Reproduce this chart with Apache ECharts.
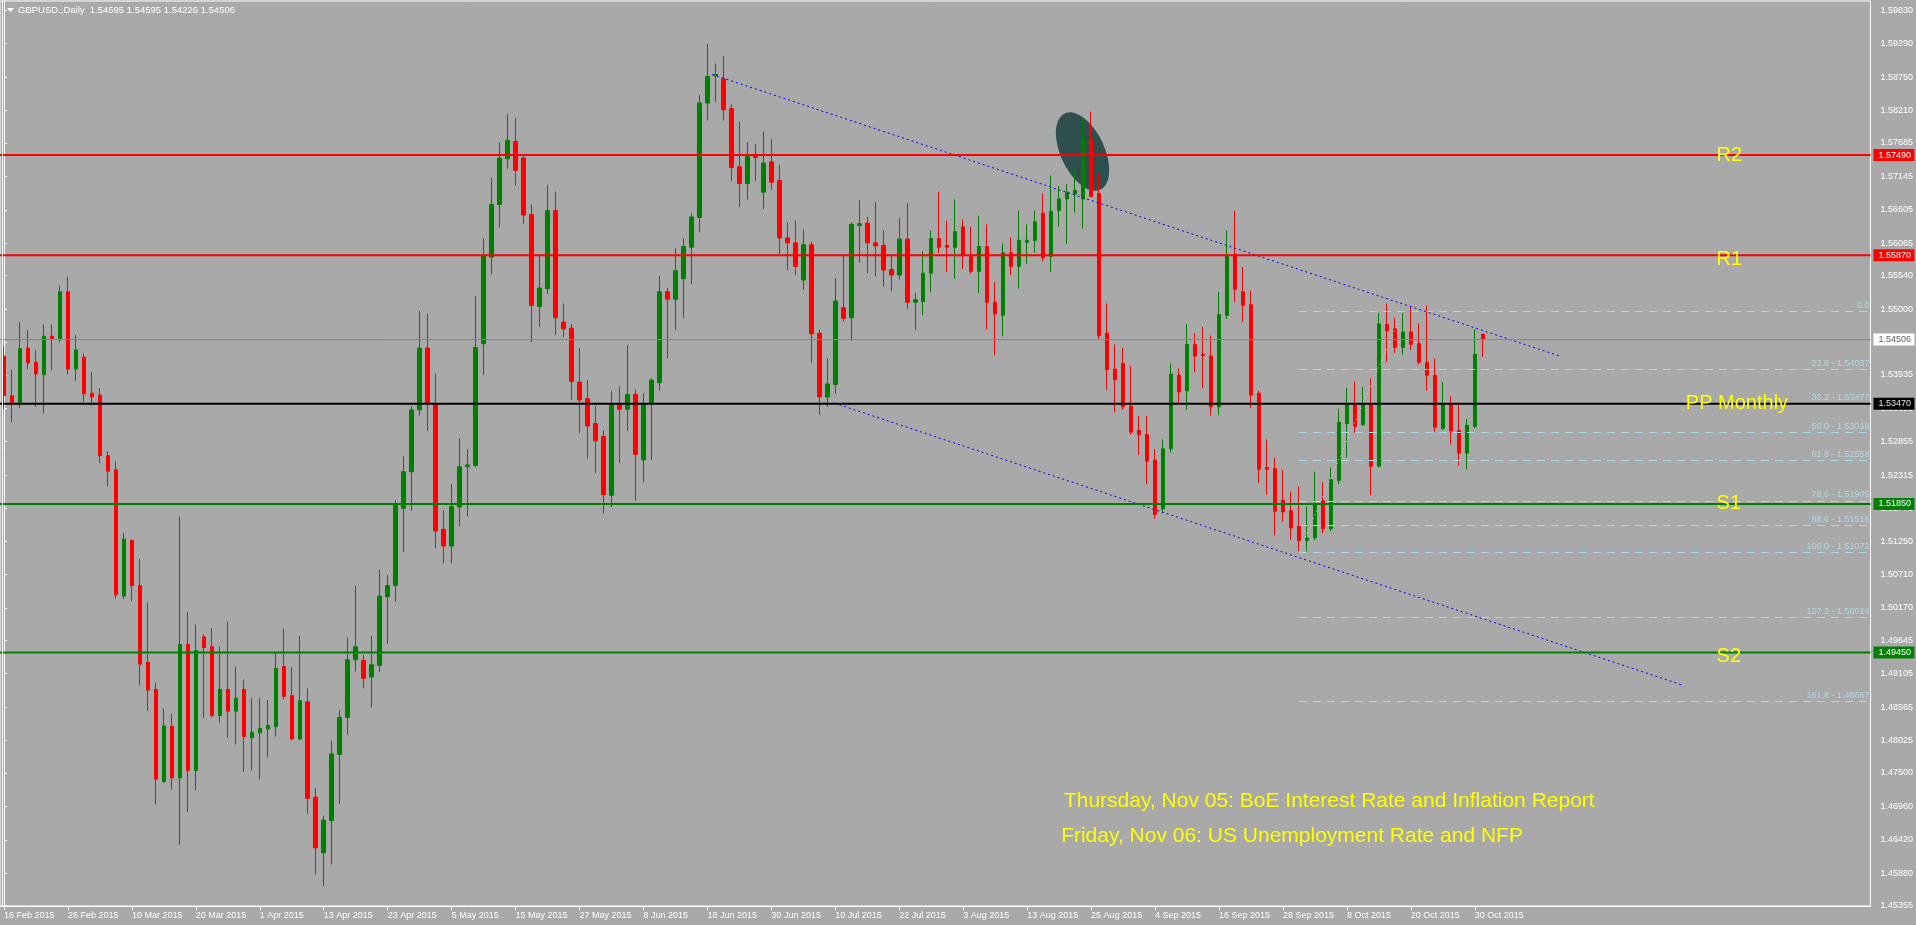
<!DOCTYPE html>
<html>
<head>
<meta charset="utf-8">
<title>GBPUSD Daily</title>
<script src="https://cdn.jsdelivr.net/npm/echarts@6.0.0/dist/echarts.min.js"></script>
<style>
html,body{margin:0;padding:0;background:#a9a9a9;overflow:hidden;}
#chart{width:1916px;height:925px;}
</style>
</head>
<body>
<div id="chart"></div>
<script>
// ---------------- DATA ----------------
const symbolName = 'GBPUSD.,Daily';
const tickLabels = ['16 Feb 2015','26 Feb 2015','10 Mar 2015','20 Mar 2015','1 Apr 2015','13 Apr 2015','23 Apr 2015','5 May 2015','15 May 2015','27 May 2015','8 Jun 2015','18 Jun 2015','30 Jun 2015','10 Jul 2015','22 Jul 2015','3 Aug 2015','13 Aug 2015','25 Aug 2015','4 Sep 2015','16 Sep 2015','28 Sep 2015','8 Oct 2015','20 Oct 2015','30 Oct 2015'];
const barsPerTickLabel = 8;
const slotCount = 234;

const opens = [
1.5424,1.5360,1.5349,1.5437,1.5414,1.5394,1.5456,1.5452,1.5528,1.5403,
1.5422,1.5364,1.5361,1.5263,1.5240,1.5036,1.5126,1.5053,1.4929,1.4885,
1.4736,1.4825,1.4742,1.4958,1.4754,1.4970,1.4954,1.4843,1.4885,1.4850,
1.4885,1.4807,1.4815,1.4821,1.4825,1.4922,1.4875,1.4805,1.4865,1.4711,
1.4621,1.4673,1.4780,1.4840,1.4933,1.4932,1.4905,1.4924,1.5035,1.5053,
1.5178,1.5237,1.5337,1.5437,1.5346,1.5144,1.5117,1.5180,1.5245,1.5247,
1.5444,1.5584,1.5669,1.5743,1.5771,1.5744,1.5653,1.5504,1.5533,1.5659,
1.5479,1.5469,1.5382,1.5355,1.5315,1.5294,1.5199,1.5345,1.5338,1.5362,
1.5256,1.5348,1.5381,1.5528,1.5516,1.5549,1.5600,1.5648,1.5833,1.5877,
1.5872,1.5824,1.5730,1.5703,1.5749,1.5689,1.5738,1.5708,1.5615,1.5607,
1.5547,1.5604,1.5461,1.5358,1.5378,1.5502,1.5486,1.5635,1.5639,1.5607,
1.5603,1.5564,1.5555,1.5613,1.5511,1.5512,1.5558,1.5614,1.5603,1.5600,
1.5633,1.5585,1.5561,1.5601,1.5511,1.5490,1.5591,1.5569,1.5608,1.5611,
1.5655,1.5585,1.5659,1.5678,1.5686,1.5678,1.5774,1.5687,1.5461,1.5403,
1.5412,1.5343,1.5304,1.5297,1.5256,1.5177,1.5274,1.5393,1.5368,1.5443,
1.5427,1.5424,1.5342,1.5490,1.5589,1.5528,1.5507,1.5364,1.5244,1.5242,
1.5191,1.5174,1.5149,1.5126,1.5130,1.5190,1.5145,1.5223,1.5315,1.5347,
1.5313,1.5347,1.5246,1.5475,1.5468,1.5438,1.5463,1.5444,1.5414,1.5393,
1.5307,1.5347,1.5304,1.5267,1.5310,1.54595];
const highs = [
1.5440,1.5402,1.5479,1.5466,1.5434,1.5475,1.5475,1.5538,1.5552,1.5458,
1.5428,1.5398,1.5372,1.5270,1.5254,1.5138,1.5128,1.5096,1.5026,1.4896,
1.4854,1.4846,1.5164,1.5010,1.4990,1.4974,1.4984,1.4954,1.4995,1.4922,
1.4901,1.4871,1.4871,1.4868,1.4944,1.4983,1.4921,1.4972,1.4887,1.4725,
1.4681,1.4802,1.4852,1.4969,1.5053,1.4941,1.4972,1.5079,1.5070,1.5191,
1.5262,1.5343,1.5497,1.5493,1.5396,1.5174,1.5217,1.5291,1.5274,1.5521,
1.5614,1.5712,1.5769,1.5815,1.5809,1.5747,1.5669,1.5587,1.5701,1.5690,
1.5509,1.5476,1.5437,1.5385,1.5343,1.5304,1.5367,1.5375,1.5442,1.5370,
1.5364,1.5388,1.5554,1.5534,1.5598,1.5614,1.5655,1.5846,1.5929,1.5897,
1.5909,1.5831,1.5803,1.5770,1.5767,1.5787,1.5775,1.5733,1.5640,1.5643,
1.5629,1.5609,1.5467,1.5420,1.5550,1.5587,1.5640,1.5676,1.5649,1.5673,
1.5627,1.5586,1.5647,1.5671,1.5526,1.5594,1.5627,1.5690,1.5643,1.5677,
1.5645,1.5633,1.5651,1.5637,1.5544,1.5606,1.5616,1.5659,1.5637,1.5659,
1.5687,1.5716,1.5699,1.5702,1.5725,1.5810,1.5819,1.5720,1.5509,1.5443,
1.5437,1.5408,1.5327,1.5327,1.5274,1.5289,1.5412,1.5404,1.5476,1.5461,
1.5471,1.5457,1.5528,1.5627,1.5659,1.5568,1.5530,1.5368,1.5289,1.5260,
1.5240,1.5205,1.5213,1.5181,1.5237,1.5220,1.5244,1.5339,1.5373,1.5383,
1.5374,1.5388,1.5494,1.5509,1.5486,1.5497,1.5505,1.5477,1.5506,1.5420,
1.5382,1.5359,1.5347,1.5322,1.5467,1.54595];
const lows = [
1.5338,1.5317,1.5340,1.5403,1.5342,1.5331,1.5401,1.5446,1.5394,1.5384,
1.5350,1.5344,1.5251,1.5213,1.5032,1.5031,1.5028,1.4892,1.4850,1.4699,
1.4734,1.4723,1.4634,1.4687,1.4722,1.4839,1.4840,1.4831,1.4807,1.4796,
1.4752,1.4754,1.4740,1.4775,1.4809,1.4869,1.4803,1.4803,1.4684,1.4586,
1.4567,1.4602,1.4700,1.4811,1.4914,1.4887,1.4856,1.4913,1.4959,1.5027,
1.5107,1.5174,1.5328,1.5303,1.5113,1.5089,1.5089,1.5149,1.5165,1.5244,
1.5393,1.5556,1.5632,1.5727,1.5700,1.5638,1.5446,1.5471,1.5524,1.5458,
1.5455,1.5353,1.5300,1.5258,1.5235,1.5170,1.5180,1.5251,1.5303,1.5190,
1.5220,1.5256,1.5368,1.5420,1.5466,1.5486,1.5540,1.5624,1.5805,1.5835,
1.5805,1.5707,1.5665,1.5677,1.5707,1.5662,1.5693,1.5589,1.5563,1.5555,
1.5531,1.5413,1.5329,1.5342,1.5363,1.5480,1.5449,1.5575,1.5558,1.5553,
1.5536,1.5529,1.5548,1.5500,1.5466,1.5490,1.5527,1.5591,1.5560,1.5549,
1.5565,1.5557,1.5526,1.5467,1.5425,1.5456,1.5555,1.5533,1.5573,1.5591,
1.5577,1.5560,1.5633,1.5605,1.5656,1.5630,1.5681,1.5452,1.5369,1.5333,
1.5337,1.5297,1.5264,1.5217,1.5161,1.5170,1.5268,1.5348,1.5337,1.5398,
1.5372,1.5328,1.5328,1.5484,1.5511,1.5479,1.5340,1.5219,1.5200,1.5134,
1.5156,1.5127,1.5107,1.5108,1.5126,1.5138,1.5141,1.5217,1.5260,1.5300,
1.5311,1.5199,1.5244,1.5414,1.5429,1.5426,1.5434,1.5410,1.5368,1.5302,
1.5304,1.5281,1.5247,1.5241,1.5307,1.54226];
const closes = [
1.5360,1.5349,1.5436,1.5413,1.5395,1.5456,1.5452,1.5528,1.5403,1.5434,
1.5363,1.5358,1.5263,1.5238,1.5038,1.5128,1.5053,1.4926,1.4884,1.4740,
1.4826,1.4742,1.4958,1.4754,1.4948,1.4953,1.4843,1.4885,1.4850,1.4871,
1.4809,1.4816,1.4822,1.4827,1.4919,1.4874,1.4805,1.4867,1.4709,1.4629,
1.4674,1.4781,1.4840,1.4933,1.4954,1.4903,1.4925,1.5036,1.5053,1.5185,
1.5237,1.5337,1.5437,1.5348,1.5141,1.5117,1.5181,1.5245,1.5248,1.5438,
1.5587,1.5669,1.5744,1.5773,1.5724,1.5652,1.5506,1.5534,1.5659,1.5486,
1.5468,1.5383,1.5353,1.5311,1.5287,1.5200,1.5345,1.5338,1.5362,1.5265,
1.5347,1.5385,1.5528,1.5516,1.5562,1.5601,1.5649,1.5833,1.5876,1.5879,
1.5822,1.5729,1.5703,1.5749,1.5745,1.5736,1.5705,1.5615,1.5607,1.5569,
1.5604,1.5460,1.5358,1.5379,1.5513,1.5485,1.5637,1.5638,1.5607,1.5602,
1.5563,1.5555,1.5613,1.5511,1.5515,1.5558,1.5614,1.5600,1.5600,1.5625,
1.5586,1.5561,1.5601,1.5511,1.5492,1.5591,1.5569,1.5611,1.5611,1.5641,
1.5583,1.5658,1.5678,1.5689,1.5692,1.5776,1.5682,1.5457,1.5402,1.5386,
1.5342,1.5301,1.5297,1.5254,1.5168,1.5274,1.5395,1.5366,1.5443,1.5424,
1.5425,1.5342,1.5491,1.5587,1.5532,1.5506,1.5361,1.5241,1.5241,1.5173,
1.5172,1.5146,1.5126,1.5130,1.5185,1.5145,1.5224,1.5317,1.5345,1.5310,
1.5347,1.5246,1.5476,1.5465,1.5438,1.5463,1.5443,1.5414,1.5393,1.5309,
1.5347,1.5303,1.5267,1.5312,1.5427,1.54506];

const yTickValues = [1.59830,1.59290,1.58750,1.58210,1.57685,1.57145,1.56605,1.56065,1.55540,1.55000,1.54460,1.53935,1.53395,1.52855,1.52315,1.51775,1.51250,1.50710,1.50170,1.49645,1.49105,1.48565,1.48025,1.47500,1.46960,1.46420,1.45880,1.45355];
const yMin = 1.45350, yMax = 1.59980;

const levelNames  = ['R2', 'R1', 'PP Monthly', 'S1', 'S2'];
const levelPrices = [1.57490, 1.55870, 1.53470, 1.51850, 1.49450];
const currentPrice = closes[closes.length - 1];

const fibLevels = [0.0, 23.8, 38.2, 50.0, 61.8, 78.6, 88.6, 100.0, 127.2, 161.8];
const fibPrices = [1.54964, 1.54037, 1.53477, 1.53018, 1.52558, 1.51905, 1.51516, 1.51072, 1.50014, 1.48667];
const fibAnchorLow  = [162, 1.51072];
const fibAnchorHigh = [175, 1.54964];

const channelUpper = [[88.6, 1.58791], [194.9, 1.54228]];
const channelLower = [[103.9, 1.53479], [209.9, 1.48925]];

const ellipseAxisEnds = [132.7, 1.58162, 137.15, 1.56931];

const levelLabelAnchors = [[214.25, 1.57490], [214.25, 1.55806], [210.4, 1.53470], [214.25, 1.51850], [214.25, 1.49377]];
const eventNotes = ['Thursday, Nov 05: BoE Interest Rate and Inflation Report', 'Friday, Nov 06: US Unemployment Rate and NFP'];
const eventAnchors = [[132.6, 1.47047], [132.25, 1.46473]];

// ---------------- STYLES ----------------
const FONT = "'Liberation Sans', Arial, sans-serif";
const BG = '#a9a9a9';
const levelStyles = [
  { line: '#ff0000', width: 2, box: '#ff0000', text: '#ffffff' },
  { line: '#ff0000', width: 2, box: '#ff0000', text: '#ffffff' },
  { line: '#000000', width: 2, box: '#000000', text: '#e8e8e8' },
  { line: '#008000', width: 2, box: '#008000', text: '#ffffff' },
  { line: '#008000', width: 2, box: '#008000', text: '#ffffff' },
  { line: '#778899', width: 1, box: '#ffffff', text: '#606060' }
];

// ---------------- BUILD ----------------
const categories = Array.from({ length: slotCount }, (_, i) => String(i));
const candleData = opens.map((o, i) => [o, closes[i], lows[i], highs[i]]);
const isTick = (i) => i % barsPerTickLabel === 0 && i < opens.length;

const levelRows = [[0, currentPrice, 5]].concat(levelPrices.map((p, i) => [0, p, i]));
const fibRows = fibPrices.map((p, i) => [fibAnchorLow[0], p, fibLevels[i]]);
const labelRows = levelLabelAnchors.map((a, i) => [a[0], a[1], i]);
const eventRows = eventAnchors.map((a, i) => [a[0], a[1], i]);

const last = opens.length - 1;
const headerText = symbolName + '  ' + opens[last].toFixed(5) + ' ' + highs[last].toFixed(5) + ' ' + lows[last].toFixed(5) + ' ' + closes[last].toFixed(5);

const chart = echarts.init(document.getElementById('chart'), null, { renderer: 'canvas' });

const option = {
  backgroundColor: BG,
  animation: false,
  textStyle: { fontFamily: FONT },
  grid: { left: 0, right: 44, top: 1, bottom: 19, show: true, borderColor: '#ffffff', borderWidth: 1, backgroundColor: 'transparent' },
  xAxis: [
    {
      type: 'category', data: categories, boundaryGap: true,
      axisLine: { show: true, lineStyle: { color: '#ffffff', width: 1 } },
      axisTick: { show: true, interval: isTick, alignWithLabel: true, length: 4, lineStyle: { color: '#ffffff' } },
      axisLabel: {
        show: true, interval: isTick, color: '#ffffff', fontSize: 9, fontFamily: FONT, align: 'left', margin: 5,
        formatter: (v, idx) => tickLabels[idx / barsPerTickLabel] || ''
      },
      splitLine: { show: false }
    },
    { type: 'value', min: -0.5, max: slotCount - 0.5, show: false, gridIndex: 0 }
  ],
  yAxis: [{
    type: 'value', position: 'right', min: yMin, max: yMax, scale: true,
    axisLine: { show: true, lineStyle: { color: '#ffffff', width: 1 } },
    axisTick: { show: true, customValues: yTickValues, length: 3, lineStyle: { color: '#ffffff' } },
    axisLabel: { show: true, customValues: yTickValues, color: '#ffffff', fontSize: 9, fontFamily: FONT, margin: 10, formatter: (v) => v.toFixed(5) },
    splitLine: { show: false }
  }],
  graphic: [
    { type: 'line', shape: { x1: 2.5, y1: 1, x2: 2.5, y2: 906 }, style: { stroke: '#ffffff', lineWidth: 1 }, z: 100 },
    { type: 'polygon', shape: { points: [[7, 8], [14, 8], [10.5, 12]] }, style: { fill: '#ffffff' }, z: 100 },
    { type: 'text', left: 18, top: 5, style: { text: headerText, fill: '#ffffff', font: '9.5px ' + FONT }, z: 100 }
  ],
  series: [
    {
      name: 'ellipse', type: 'custom', xAxisIndex: 1, yAxisIndex: 0, z: 1, silent: true,
      data: [ellipseAxisEnds],
      renderItem: (params, api) => {
        const a = api.coord([api.value(0), api.value(1)]);
        const b = api.coord([api.value(2), api.value(3)]);
        const cx = (a[0] + b[0]) / 2, cy = (a[1] + b[1]) / 2;
        const R = Math.hypot(b[0] - a[0], b[1] - a[1]) / 2, r = R * 0.52;
        const ang = Math.atan2(b[1] - a[1], b[0] - a[0]);
        const pts = [];
        for (let t = 0; t < 72; t++) {
          const th = t / 72 * Math.PI * 2;
          const px = R * Math.cos(th), py = r * Math.sin(th);
          pts.push([cx + px * Math.cos(ang) - py * Math.sin(ang), cy + px * Math.sin(ang) + py * Math.cos(ang)]);
        }
        return { type: 'polygon', shape: { points: pts }, style: { fill: '#2f4f4f' } };
      }
    },
    {
      name: 'GBPUSD', type: 'candlestick', xAxisIndex: 0, yAxisIndex: 0, z: 2, silent: true,
      data: candleData, barWidth: 4,
      itemStyle: { color: '#008000', color0: '#ff0000', borderColor: '#008000', borderColor0: '#ff0000', borderColorDoji: '#008000', borderWidth: 1 }
    },
    {
      name: 'levels', type: 'custom', xAxisIndex: 1, yAxisIndex: 0, z: 5, silent: true, clip: false,
      data: levelRows,
      renderItem: (params, api) => {
        const st = levelStyles[api.value(2)];
        const price = api.value(1);
        const y = api.coord([0, price])[1];
        const cs = params.coordSys;
        const right = cs.x + cs.width;
        return {
          type: 'group', children: [
            { type: 'line', shape: { x1: cs.x, y1: y, x2: right, y2: y }, style: { stroke: st.line, lineWidth: st.width } },
            { type: 'rect', shape: { x: right + 3, y: y - 6, width: 41, height: 12 }, style: { fill: st.box } },
            { type: 'text', style: { text: price.toFixed(5), x: right + 8, y: y, align: 'left', verticalAlign: 'middle', fill: st.text, font: '9px ' + FONT } }
          ]
        };
      }
    },
    {
      name: 'fibonacci', type: 'custom', xAxisIndex: 1, yAxisIndex: 0, z: 4, silent: true,
      data: fibRows,
      renderItem: (params, api) => {
        const pt = api.coord([api.value(0), api.value(1)]);
        const cs = params.coordSys;
        const right = cs.x + cs.width;
        const lvl = api.value(2);
        const label = lvl === 0 ? '0.0' : lvl.toFixed(1) + ' - ' + api.value(1).toFixed(5);
        return {
          type: 'group', children: [
            { type: 'line', shape: { x1: pt[0], y1: Math.round(pt[1]) + 0.5, x2: right, y2: Math.round(pt[1]) + 0.5 }, style: { stroke: '#add8e6', lineWidth: 1, lineDash: [8, 6] } },
            { type: 'text', style: { text: label, x: right - 1, y: pt[1] - 1, align: 'right', verticalAlign: 'bottom', fill: '#b4d6de', font: '9px ' + FONT } }
          ]
        };
      }
    },
    {
      name: 'fibTrend', type: 'line', xAxisIndex: 1, yAxisIndex: 0, z: 4, silent: true, symbol: 'none',
      data: [fibAnchorLow, fibAnchorHigh],
      lineStyle: { color: '#dcdcdc', width: 1, type: [1, 3] }
    },
    {
      name: 'channelUpper', type: 'line', xAxisIndex: 1, yAxisIndex: 0, z: 4, silent: true, symbol: 'none',
      data: channelUpper, lineStyle: { color: '#0000ff', width: 1, type: [2, 3] }
    },
    {
      name: 'channelLower', type: 'line', xAxisIndex: 1, yAxisIndex: 0, z: 4, silent: true, symbol: 'none',
      data: channelLower, lineStyle: { color: '#0000ff', width: 1, type: [2, 3] }
    },
    {
      name: 'levelLabels', type: 'custom', xAxisIndex: 1, yAxisIndex: 0, z: 6, silent: true,
      data: labelRows,
      renderItem: (params, api) => {
        const pt = api.coord([api.value(0), api.value(1)]);
        return { type: 'text', style: { text: levelNames[api.value(2)], x: pt[0], y: pt[1], align: 'left', verticalAlign: 'middle', fill: '#ffff00', font: '20px ' + FONT } };
      }
    },
    {
      name: 'events', type: 'custom', xAxisIndex: 1, yAxisIndex: 0, z: 6, silent: true,
      data: eventRows,
      renderItem: (params, api) => {
        const pt = api.coord([api.value(0), api.value(1)]);
        return { type: 'text', style: { text: eventNotes[api.value(2)], x: pt[0], y: pt[1], align: 'left', verticalAlign: 'middle', fill: '#ffff00', font: '21px ' + FONT } };
      }
    }
  ]
};
chart.setOption(option);
</script>
</body>
</html>
